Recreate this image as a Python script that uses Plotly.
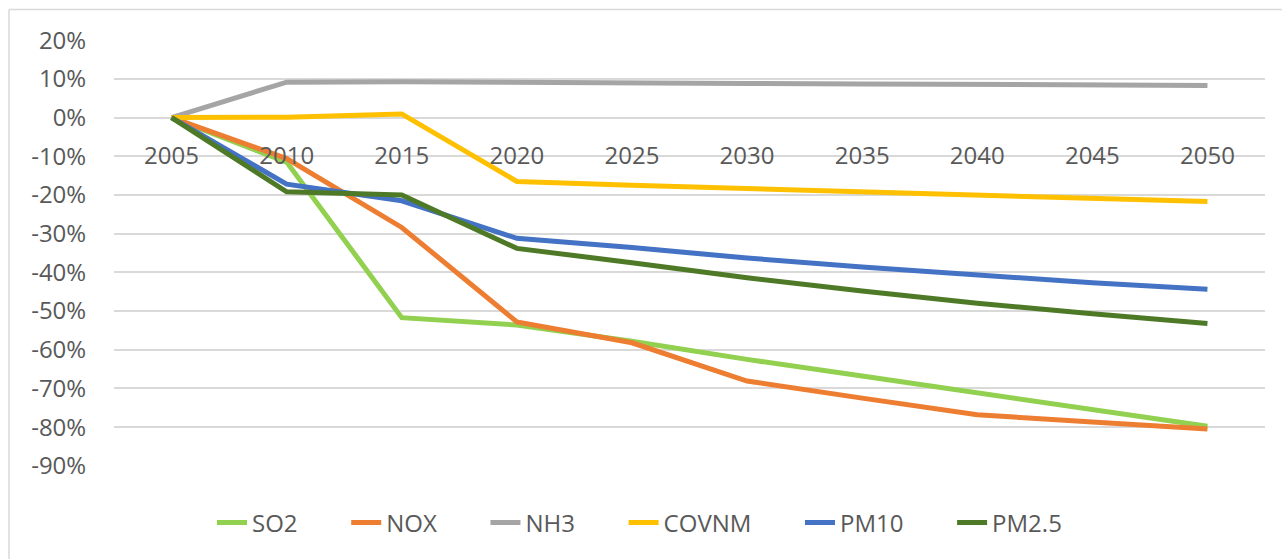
import plotly.graph_objects as go

# Emission change relative to 2005 (fraction)
years = ["2005", "2010", "2015", "2020", "2025", "2030", "2035", "2040", "2045", "2050"]
so2 = [0, -0.115, -0.517, -0.536, -0.578, -0.625, -0.668, -0.712, -0.755, -0.798]
nox = [0, -0.106, -0.284, -0.528, -0.582, -0.681, -0.725, -0.768, -0.787, -0.805]
nh3 = [0, 0.0915, 0.0925, 0.090, 0.089, 0.088, 0.087, 0.086, 0.085, 0.083]
covnm = [0, 0.001, 0.0095, -0.165, -0.175, -0.183, -0.192, -0.200, -0.208, -0.217]
pm10 = [0, -0.172, -0.215, -0.312, -0.336, -0.363, -0.386, -0.408, -0.427, -0.444]
pm25 = [0, -0.192, -0.200, -0.338, -0.375, -0.414, -0.448, -0.480, -0.507, -0.532]

# Y axis ticks
y_tick_vals = [0.2, 0.1, 0.0, -0.1, -0.2, -0.3, -0.4, -0.5, -0.6, -0.7, -0.8, -0.9]
y_tick_text = ["20%", "10%", "0%", "-10%", "-20%", "-30%", "-40%", "-50%",
               "-60%", "-70%", "-80%", "-90%"]

series = [
    ("SO2", so2, "#92D050"),
    ("NOX", nox, "#ED7D31"),
    ("NH3", nh3, "#A5A5A5"),
    ("COVNM", covnm, "#FFC000"),
    ("PM10", pm10, "#4472C4"),
    ("PM2.5", pm25, "#4E7A27"),
]

W, H = 1282, 559
L, R, T, B = 114, 1265, 40, 466  # plot area in pixels
y_min, y_max = -0.9005, 0.2005

# non-breaking spaces widen the gap between legend entries
entry_pad = "\u00a0" * 7

fig = go.Figure()
for name, vals, color in series:
    fig.add_trace(go.Scatter(
        x=years, y=vals, name=name + entry_pad, mode="lines",
        line=dict(color=color, width=5),
    ))

font = dict(family="Open Sans, Calibri, sans-serif", size=24, color="#595959")
grid = "#D9D9D9"

fig.update_layout(
    width=W, height=H,
    margin=dict(l=L, r=W - R, t=T, b=H - B, pad=0),
    paper_bgcolor="white", plot_bgcolor="white",
    font=font,
    showlegend=True,
    legend=dict(
        orientation="h", x=(212 - L) / (R - L), xanchor="left",
        y=(B - 523) / (B - T), yanchor="middle",
        font=font, bgcolor="rgba(0,0,0,0)",
    ),
    xaxis=dict(
        type="category", range=[-0.5, len(years) - 0.5],
        anchor="free", position=(0 - y_min) / (y_max - y_min),
        showgrid=False, showline=False, zeroline=False,
        ticks="outside", ticklen=17, tickcolor="rgba(0,0,0,0)",
        tickfont=font,
    ),
    yaxis=dict(
        range=[y_min, y_max], tickmode="array",
        tickvals=y_tick_vals, ticktext=y_tick_text,
        showgrid=True, gridcolor=grid, gridwidth=1.5,
        zeroline=True, zerolinecolor=grid, zerolinewidth=1.5,
        showline=False,
        ticks="outside", ticklen=22, tickcolor="rgba(0,0,0,0)",
        tickfont=font,
    ),
    hovermode=False,
)

# Chart frame (top and left edges)
px = lambda x: (x - L) / (R - L)
py = lambda y: (B - y) / (B - T)
frame = dict(color=grid, width=1.5)
fig.add_shape(type="line", xref="paper", yref="paper",
              x0=px(9), x1=px(W + 5), y0=py(9.5), y1=py(9.5), line=frame)
fig.add_shape(type="line", xref="paper", yref="paper",
              x0=px(9), x1=px(9), y0=py(9.5), y1=py(H + 5), line=frame)

fig.write_html("out.html")
